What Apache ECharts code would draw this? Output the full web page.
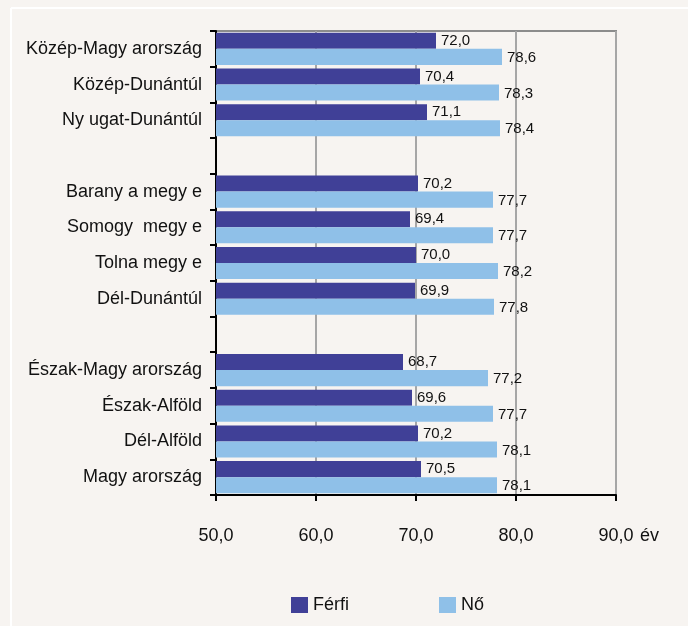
<!DOCTYPE html>
<html>
<head>
<meta charset="utf-8">
<script src="https://cdn.jsdelivr.net/npm/echarts@6/dist/echarts.min.js"></script>
<style>
  html, body { margin: 0; padding: 0; background: #f7f4f1; }
  #chart { width: 688px; height: 626px; }
</style>
</head>
<body>
<div id="chart"></div>
<script>
// regions, top to bottom ('' = empty spacer row)
const regions = ['Közép-Magy arország', 'Közép-Dunántúl', 'Ny ugat-Dunántúl', '',
  'Barany a megy e', 'Somogy  megy e', 'Tolna megy e', 'Dél-Dunántúl', '',
  'Észak-Magy arország', 'Észak-Alföld', 'Dél-Alföld', 'Magy arország'];
const ferfi = [72.0, 70.4, 71.1, null, 70.2, 69.4, 70.0, 69.9, null, 68.7, 69.6, 70.2, 70.5];
const no = [78.6, 78.3, 78.4, null, 77.7, 77.7, 78.2, 77.8, null, 77.2, 77.7, 78.1, 78.1];

const FONT = "'Liberation Sans', Arial, sans-serif";
const fmt = v => v.toFixed(1).replace('.', ',');

const chart = echarts.init(document.getElementById('chart'));
chart.setOption({
  backgroundColor: '#f7f4f1',
  animation: false,
  textStyle: { fontFamily: FONT },
  graphic: [
    { type: 'line', shape: { x1: 11, y1: 8, x2: 688, y2: 8 }, style: { stroke: '#ffffff', lineWidth: 2 } },
    { type: 'line', shape: { x1: 11, y1: 8, x2: 11, y2: 626 }, style: { stroke: '#ffffff', lineWidth: 2 } }
  ],
  grid: {
    left: 216, right: 72, top: 31, bottom: 131,
    show: true, borderColor: '#8c8c8c', borderWidth: 2, backgroundColor: 'transparent'
  },
  legend: {
    left: 291, top: 596, padding: 0,
    itemWidth: 17, itemHeight: 16, itemGap: 90,
    icon: 'rect',
    textStyle: { fontFamily: FONT, fontSize: 18, color: '#111' },
    data: ['Férfi', 'Nő']
  },
  xAxis: {
    type: 'value',
    min: 50, max: 90, interval: 10,
    name: 'év',
    nameLocation: 'end',
    nameGap: 24,
    nameTextStyle: { fontFamily: FONT, fontSize: 18, color: '#111', verticalAlign: 'top', padding: [32, 0, 0, 0] },
    axisLine: { show: true, lineStyle: { color: '#000', width: 2 } },
    axisTick: { show: true, length: 6, lineStyle: { color: '#000', width: 2 } },
    axisLabel: { formatter: fmt, fontFamily: FONT, fontSize: 18, color: '#111', margin: 32 },
    splitLine: { show: true, lineStyle: { color: '#a6a6a6', width: 2 } }
  },
  yAxis: {
    type: 'category',
    inverse: true,
    data: regions,
    axisLine: { show: true, lineStyle: { color: '#000', width: 2 } },
    axisTick: { show: true, length: 6, lineStyle: { color: '#000', width: 2 } },
    axisLabel: { fontFamily: FONT, fontSize: 18, color: '#111', margin: 14 }
  },
  series: [
    {
      name: 'Férfi', type: 'bar', data: ferfi,
      barGap: 0, barCategoryGap: '10%',
      itemStyle: { color: '#404097' },
      label: { show: true, position: 'right', distance: 5, formatter: p => fmt(p.value), fontFamily: FONT, fontSize: 15, color: '#111' },
      z: 3
    },
    {
      name: 'Nő', type: 'bar', data: no,
      barGap: 0, barCategoryGap: '10%',
      itemStyle: { color: '#8fc0e8' },
      label: { show: true, position: 'right', distance: 5, offset: [0, 1], formatter: p => fmt(p.value), fontFamily: FONT, fontSize: 15, color: '#111' },
      z: 3
    }
  ]
});
</script>
</body>
</html>
